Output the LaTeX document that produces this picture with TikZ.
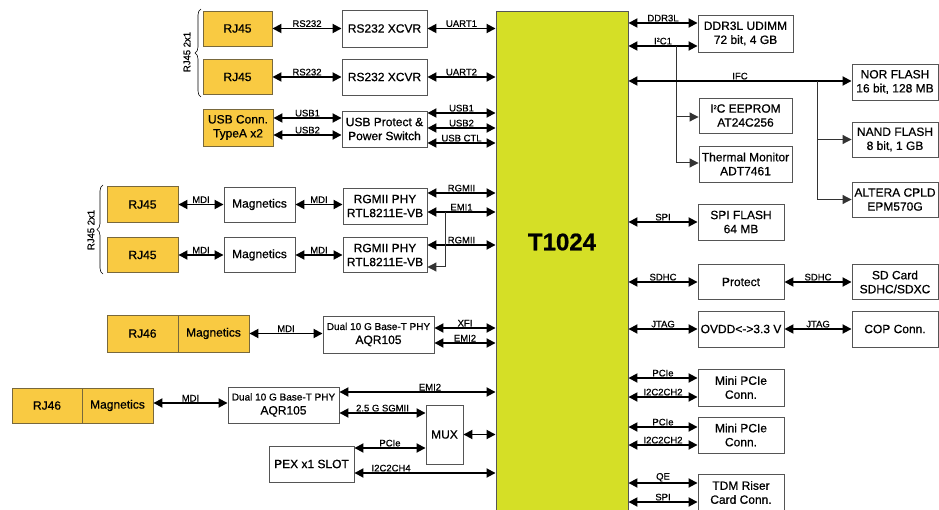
\documentclass[tikz,border=0pt]{standalone}
\usepackage{fontspec}
\setmainfont{Liberation Sans}[RawFeature={embolden=0.7}]
\usetikzlibrary{arrows.meta, calc, decorations.pathreplacing}
\definecolor{chipgreen}{RGB}{213,223,38}
\definecolor{jackorange}{RGB}{249,202,66}
\definecolor{jackline}{RGB}{120,104,60}
\definecolor{boxline}{RGB}{85,85,85}
\newcommand{\twosup}{\raisebox{0.55ex}{\fontsize{5.5}{6}\selectfont 2}}

\begin{document}
\begin{tikzpicture}[x=1pt, y=-1pt,
	sz/.style 2 args={minimum width=#1pt, minimum height=#2pt},
	box/.style={draw=boxline, line width=0.9pt, fill=white, align=center, inner sep=1pt, font=\fontsize{12}{14}\selectfont},
	jack/.style={box, fill=jackorange, draw=jackline},
	chip/.style={draw=boxline, line width=0.9pt, fill=chipgreen},
	bus/.style={line width=1.8pt, {Triangle[length=9pt,width=9pt]}-{Triangle[length=9pt,width=9pt]}},
	tap/.style={draw=black!80, line width=1pt, -{Triangle[length=9pt,width=9pt]}},
	lbl/.style={above, inner sep=0.6pt, font=\fontsize{9.5}{10}\selectfont},
	brc/.style={decorate, decoration={brace, amplitude=6pt}, line width=0.6pt}]
	\useasboundingbox (0,0) rectangle (939,510);

	\node[chip, minimum width=132pt, minimum height=520pt, anchor=north] (cpu) at (562,11) {};
	\node[font=\bfseries\fontsize{24}{26}\selectfont] (cpuname) at (562,242) {T1024};

	\node[jack, sz={69}{35}] (rjA) at (237.5,28.5) {RJ45};
	\node[jack, sz={69}{35}] (rjB) at (237.5,77) {RJ45};
	\node[box, sz={85}{37}] (xcvrA) at (384.5,28.5) {RS232 XCVR};
	\node[box, sz={85}{36}] (xcvrB) at (384.5,77) {RS232 XCVR};
	\node[jack, sz={70}{37}] (usbc) at (238,127.5) {USB Conn.\\TypeA x2};
	\node[box, sz={85}{36}] (usbsw) at (384.5,129) {USB Protect \&\\Power Switch};
	\draw[brc] (201,97) -- (201,9);
	\node[rotate=90, font=\fontsize{9.5}{10}\selectfont] (rjpairA) at (187,52) {RJ45 2x1};

	\draw[bus] (rjA) -- (xcvrA) node[lbl, midway] {RS232};
	\draw[bus] (rjB) -- (xcvrB) node[lbl, midway] {RS232};
	\draw[bus] (xcvrA) -- (xcvrA -| cpu.west) node[lbl, midway] {UART1};
	\draw[bus] (xcvrB) -- (xcvrB -| cpu.west) node[lbl, midway] {UART2};
	\draw[bus] (usbc.east |- 0,118) -- (usbsw.west |- 0,118) node[lbl, midway] {USB1};
	\draw[bus] (usbc.east |- 0,135) -- (usbsw.west |- 0,135) node[lbl, midway] {USB2};
	\draw[bus] (usbsw.east |- 0,113) -- (cpu.west |- 0,113) node[lbl, midway] {USB1};
	\draw[bus] (usbsw.east |- 0,128) -- (cpu.west |- 0,128) node[lbl, midway] {USB2};
	\draw[bus] (usbsw.east |- 0,143) -- (cpu.west |- 0,143) node[lbl, midway] {USB CTL};

	\node[jack, sz={71}{36}] (rjC) at (142.5,204.5) {RJ45};
	\node[jack, sz={71}{35}] (rjD) at (142.5,255) {RJ45};
	\node[box, sz={71}{35}] (magA) at (259.5,204.5) {Magnetics};
	\node[box, sz={71}{35}] (magB) at (259.5,255) {Magnetics};
	\node[box, sz={84}{36}] (phyA) at (385,206) {RGMII PHY\\RTL8211E-VB};
	\node[box, sz={84}{35}] (phyB) at (385,255) {RGMII PHY\\RTL8211E-VB};
	\draw[brc] (103,274) -- (103,185);
	\node[rotate=90, font=\fontsize{9.5}{10}\selectfont] (rjpairB) at (91,230) {RJ45 2x1};

	\draw[bus] (rjC) -- (magA) node[lbl, midway] {MDI};
	\draw[bus] (rjD) -- (magB) node[lbl, midway] {MDI};
	\draw[bus] (magA) -- (magA -| phyA.west) node[lbl, midway] {MDI};
	\draw[bus] (magB) -- (phyB) node[lbl, midway] {MDI};
	\draw[bus] (phyA.east |- 0,193) -- (cpu.west |- 0,193) node[lbl, midway] {RGMII};
	\draw[bus] (phyA.east |- 0,212) -- (cpu.west |- 0,212) node[lbl, midway] {EMI1};
	\draw[bus] (phyB.east |- 0,245) -- (cpu.west |- 0,245) node[lbl, midway] {RGMII};
	\coordinate (emitap) at (445,212);
	\draw[tap] (emitap) |- (phyB.east |- 0,267);

	\node[jack, sz={71}{37}] (rjE) at (142.5,333.5) {RJ46};
	\node[jack, sz={71}{37}] (magC) at (213.5,333.5) {Magnetics};
	\node[box, sz={111}{37}] (dualA) at (378.5,334.5) {{\fontsize{10}{12}\selectfont Dual 10 G Base-T PHY}\\AQR105};
	\draw[bus] (magC) -- (magC -| dualA.west) node[lbl, midway] {MDI};
	\draw[bus] (dualA.east |- 0,328) -- (cpu.west |- 0,328) node[lbl, midway] {XFI};
	\draw[bus] (dualA.east |- 0,343) -- (cpu.west |- 0,343) node[lbl, midway] {EMI2};

	\node[jack, sz={70}{35}] (rjF) at (47,405.5) {RJ46};
	\node[jack, sz={71}{35}] (magD) at (117.5,405.5) {Magnetics};
	\node[box, sz={111}{36}] (dualB) at (283.5,405) {{\fontsize{10}{12}\selectfont Dual 10 G Base-T PHY}\\AQR105};
	\node[box, sz={37}{59}] (mux) at (444.5,434.5) {MUX};
	\node[box, sz={85}{36}] (pex) at (311.5,464) {PEX x1 SLOT};
	\draw[bus] (magD.east |- 0,403) -- (dualB.west |- 0,403) node[lbl, midway] {MDI};
	\draw[bus] (dualB.east |- 0,392) -- (cpu.west |- 0,392) node[lbl, pos=0.58] {EMI2};
	\draw[bus] (dualB.east |- 0,413) -- (mux.west |- 0,413) node[lbl, midway] {2.5 G SGMII};
	\draw[bus] (mux) -- (mux -| cpu.west);
	\draw[bus] (pex.east |- 0,448) -- (mux.west |- 0,448) node[lbl, midway] {PCIe};
	\draw[bus] (pex.east |- 0,473) -- (cpu.west |- 0,473) node[lbl, pos=0.26] {I2C2CH4};

	\node[box, sz={95}{37}] (ddr) at (745.5,33.5) {DDR3L UDIMM\\72 bit, 4 GB};
	\node[box, sz={93}{35}] (eeprom) at (745.5,115.5) {I\twosup C EEPROM\\AT24C256};
	\node[box, sz={93}{36}] (therm) at (745.5,164) {Thermal Monitor\\ADT7461};
	\draw[bus] (cpu.east |- 0,23) -- (ddr.west |- 0,23) node[lbl, midway] {DDR3L};
	\draw[bus] (cpu.east |- 0,46) -- (ddr.west |- 0,46) node[lbl, midway] {I\twosup C1};
	\coordinate (i2ctap) at (676,46);
	\draw[tap] (i2ctap) |- (therm.west |- 0,163);
	\draw[tap] (i2ctap |- 0,117) -- (eeprom.west |- 0,117);

	\node[box, sz={86}{36}] (nor) at (895,82) {NOR FLASH\\16 bit, 128 MB};
	\node[box, sz={86}{35}] (nand) at (895,139.5) {NAND FLASH\\8 bit, 1 GB};
	\node[box, sz={86}{35}] (cpld) at (895,199.5) {ALTERA CPLD\\EPM570G};
	\draw[bus] (cpu.east |- 0,81) -- (nor.west |- 0,81) node[lbl, midway] {IFC};
	\coordinate (ifctap) at (817,81);
	\draw[tap] (ifctap) |- (cpld.west);
	\draw[tap] (ifctap |- nand.west) -- (nand.west);

	\node[box, sz={86}{36}] (spif) at (741,222) {SPI FLASH\\64 MB};
	\node[box, sz={86}{35}] (prot) at (741,282) {Protect};
	\node[box, sz={86}{35}] (sdc) at (895,282) {SD Card\\SDHC/SDXC};
	\node[box, sz={86}{36}] (ovdd) at (741,329) {OVDD<->3.3 V};
	\node[box, sz={86}{36}] (cop) at (895,329) {COP Conn.};
	\draw[bus] (cpu.east |- spif.west) -- (spif.west) node[lbl, midway] {SPI};
	\draw[bus] (cpu.east |- prot.west) -- (prot.west) node[lbl, midway] {SDHC};
	\draw[bus] (prot) -- (sdc) node[lbl, midway] {SDHC};
	\draw[bus] (cpu.east |- ovdd.west) -- (ovdd.west) node[lbl, midway] {JTAG};
	\draw[bus] (ovdd) -- (cop) node[lbl, midway] {JTAG};

	\node[box, sz={86}{37}] (mpA) at (741,387.5) {Mini PCIe\\Conn.};
	\node[box, sz={86}{36}] (mpB) at (741,435) {Mini PCIe\\Conn.};
	\node[box, sz={86}{37}] (tdm) at (741,492.5) {TDM Riser\\Card Conn.};
	\draw[bus] (cpu.east |- 0,378) -- (mpA.west |- 0,378) node[lbl, midway] {PCIe};
	\draw[bus] (cpu.east |- 0,397) -- (mpA.west |- 0,397) node[lbl, midway] {I2C2CH2};
	\draw[bus] (cpu.east |- 0,427) -- (mpB.west |- 0,427) node[lbl, midway] {PCIe};
	\draw[bus] (cpu.east |- 0,445) -- (mpB.west |- 0,445) node[lbl, midway] {I2C2CH2};
	\draw[bus] (cpu.east |- 0,483) -- (tdm.west |- 0,483) node[lbl, midway] {QE};
	\draw[bus] (cpu.east |- 0,502) -- (tdm.west |- 0,502) node[lbl, midway] {SPI};
\end{tikzpicture}
\end{document}
